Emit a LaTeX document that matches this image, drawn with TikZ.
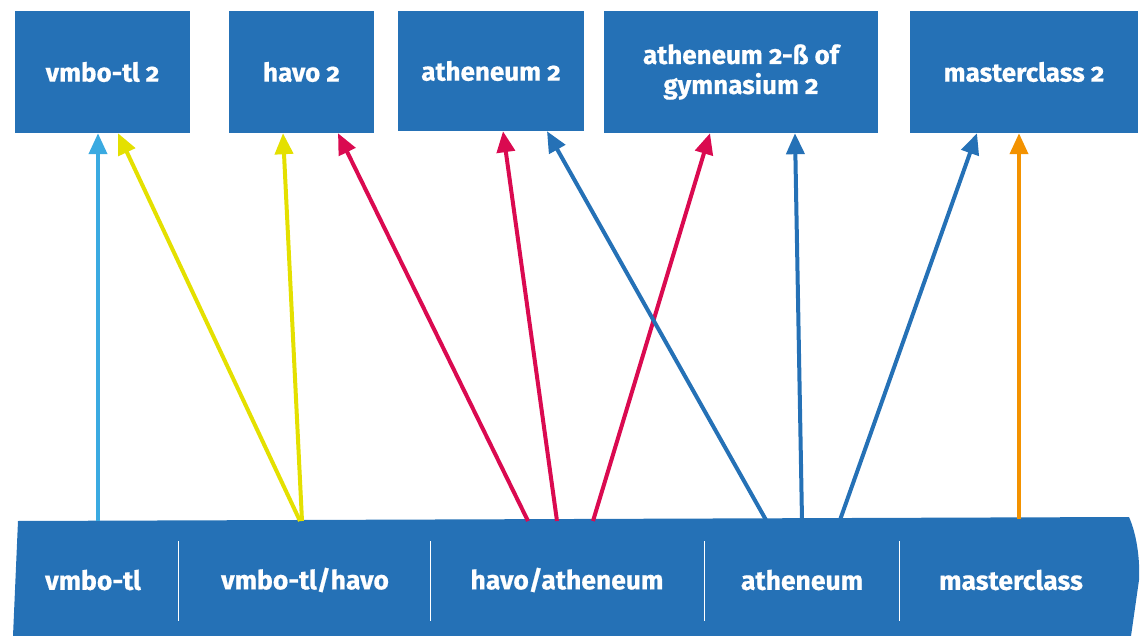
\documentclass[tikz,border=0pt]{standalone}
\usepackage{fontspec}
\setmainfont{Fira Sans}[Numbers=OldStyle, BoldFeatures={FakeBold=0.6}]
\usetikzlibrary{positioning, arrows.meta}
\definecolor{boxblue}{RGB}{37,113,182}
\definecolor{skyblue}{RGB}{58,170,225}
\definecolor{lemon}{RGB}{228,224,0}
\definecolor{crimson}{RGB}{218,10,80}
\definecolor{amber}{RGB}{243,146,0}

\begin{document}
\begin{tikzpicture}[
	x=1pt, y=-1pt,
	level/.style={rectangle, fill=boxblue, text=white, minimum height=122pt,
		align=center, font=\bfseries\fontsize{26}{30}\selectfont, inner sep=0pt},
	stream/.style={text=white, font=\bfseries\fontsize{26.5}{30}\selectfont},
	arrow/.style={-{Triangle[width=18pt,length=21pt]}, line width=4pt}
	]
	\useasboundingbox (0,0) rectangle (1146,636);
	
	% Bovenste niveaus
	\node[level, minimum width=175pt] (vt2) at (102.5,72) {vmbo-tl 2};
	\node[level, minimum width=145pt] (h2) at (301.5,72) {havo 2};
	\node[level, minimum width=186pt, minimum height=120pt] (a2) at (491,71) {atheneum 2};
	\node[level, minimum width=274pt] (ag2) at (741,72) {atheneum 2-ß of\\gymnasium 2};
	\node[level, minimum width=228pt] (m2) at (1024,72) {masterclass 2};
	
	% Onderste balk
	\fill[boxblue] (18,521) -- (1129,517) .. controls (1137,535) and (1140,560) .. (1139,580)
		-- (1131,636) -- (13,636) -- cycle;
	\foreach \x in {178,430,704,899}
		\draw[white, line width=0.8pt] (\x,541) -- (\x,621);
	
	\node[stream] (vt) at (93,580) {vmbo-tl};
	\node[stream] (vth) at (305,580) {vmbo-tl/havo};
	\node[stream] (ha) at (567,580) {havo/atheneum};
	\node[stream] (at) at (802,580) {atheneum};
	\node[stream] (mc) at (1011,580) {masterclass};
	
	% Vertrekpunten op de balk
	\coordinate (s1) at (98,521);
	\coordinate (s2) at (300,521);
	\coordinate (s3) at (302,521);
	\coordinate (s4) at (528,521);
	\coordinate (s5) at (557,521);
	\coordinate (s6) at (593,521);
	\coordinate (s7) at (766,520);
	\coordinate (s8) at (802,520);
	\coordinate (s9) at (840,520);
	\coordinate (s10) at (1019,519);
	
	% Doorstroompijlen
	\draw[arrow, skyblue] (s1) -- ([xshift=-4.5pt]vt2.south);
	\draw[arrow, lemon] (s2) -- ([xshift=15.5pt]vt2.south);
	\draw[arrow, lemon] (s3) -- ([xshift=-18.5pt]h2.south);
	\draw[arrow, crimson] (s4) -- ([xshift=36.5pt]h2.south);
	\draw[arrow, crimson] (s5) -- ([xshift=12pt]a2.south);
	\draw[arrow, crimson] (s6) -- ([xshift=-31pt]ag2.south);
	\draw[arrow, boxblue] (s7) -- ([xshift=56pt]a2.south);
	\draw[arrow, boxblue] (s8) -- ([xshift=54pt]ag2.south);
	\draw[arrow, boxblue] (s9) -- ([xshift=-47pt]m2.south);
	\draw[arrow, amber] (s10) -- ([xshift=-5pt]m2.south);
	
\end{tikzpicture}
\end{document}
